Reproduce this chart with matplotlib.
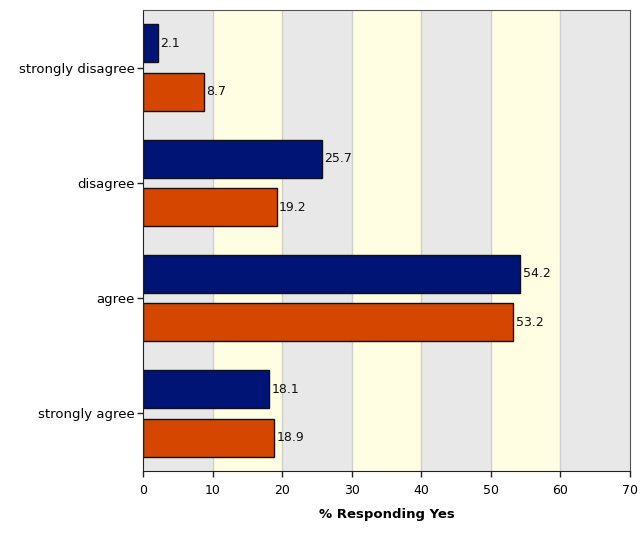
import numpy as np
import matplotlib.pyplot as plt

# survey responses, two groups per category
categories = ["strongly disagree", "disagree", "agree", "strongly agree"]
group_a = [2.1, 25.7, 54.2, 18.1]
group_b = [8.7, 19.2, 53.2, 18.9]

BLUE = "#001475"
ORANGE = "#d54700"
BAND_GREY = "#e8e8e8"
BAND_YELLOW = "#fffde2"

fig = plt.figure(figsize=(6.41, 5.43), dpi=100)
ax = fig.add_axes([143 / 641, 1 - 471 / 543, 487 / 641, 461 / 543])

# alternating background bands every 10 units
for i, x0 in enumerate(range(0, 70, 10)):
    ax.axvspan(x0, x0 + 10, color=BAND_GREY if i % 2 == 0 else BAND_YELLOW, lw=0, zorder=0)
for x in range(10, 70, 10):
    ax.axvline(x, color="#cfcfcf", lw=1, zorder=1)

y = np.arange(len(categories))
h = 0.33
off = 0.21
bars_a = ax.barh(y - off, group_a, height=h, color=BLUE, edgecolor="#111111", lw=1, zorder=2)
bars_b = ax.barh(y + off, group_b, height=h, color=ORANGE, edgecolor="#111111", lw=1, zorder=2)

for bars, vals in ((bars_a, group_a), (bars_b, group_b)):
    for b, v in zip(bars, vals):
        ax.text(v + 0.35, b.get_y() + b.get_height() / 2, f"{v:.1f}",
                va="center", ha="left", fontsize=9, color="#111111", zorder=3)

ax.set_xlim(0, 70)
ax.set_ylim(3.5, -0.5)
ax.set_xticks(range(0, 71, 10))
ax.set_yticks(y)
ax.set_yticklabels(categories)
ax.tick_params(axis="x", labelsize=9, length=4, width=1, color="#222222", pad=5)
ax.tick_params(axis="y", labelsize=9.5, length=4, width=1, color="#222222", pad=2)
ax.set_xlabel("% Responding Yes", fontsize=9.5, fontweight="bold", labelpad=8)

for side in ("top", "right"):
    ax.spines[side].set_color("#555555")
for side in ("left", "bottom"):
    ax.spines[side].set_color("#222222")

fig.savefig("out.png", dpi=100)
